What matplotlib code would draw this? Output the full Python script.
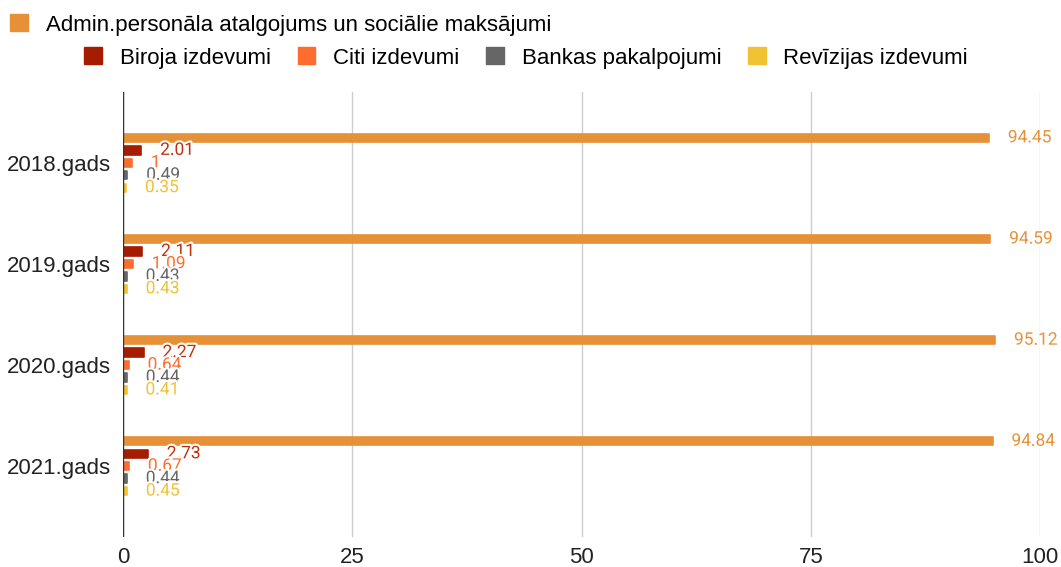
import matplotlib.pyplot as plt
import matplotlib.patheffects as pe
import numpy as np
from matplotlib.patches import Patch

years = ['2018.gads', '2019.gads', '2020.gads', '2021.gads']
series_names = ['Admin.personāla atalgojums un sociālie maksājumi', 'Biroja izdevumi',
                'Citi izdevumi', 'Bankas pakalpojumi', 'Revīzijas izdevumi']
admin = [94.45, 94.59, 95.12, 94.84]
biroja = [2.01, 2.11, 2.27, 2.73]
citi = [1, 1.09, 0.64, 0.67]
bankas = [0.49, 0.43, 0.44, 0.44]
revizijas = [0.35, 0.43, 0.41, 0.45]
x_ticks = [0, 25, 50, 75, 100]

colors = ['#e69138', '#a61c00', '#ff6d2e', '#666666', '#f1c232']
label_colors = ['#e69138', '#c0300f', '#ff6d2e', '#666666', '#f1c232']

plt.rcParams['font.family'] = ['Liberation Sans', 'DejaVu Sans']

fig = plt.figure(figsize=(10.61, 5.67), dpi=100)
ax = fig.add_axes([123 / 1061, 1 - 537 / 567, (1040 - 123) / 1061, (537 - 92) / 567])

y = np.arange(len(years))
step = 0.123
all_series = [admin, biroja, citi, bankas, revizijas]
for i, vals in enumerate(all_series):
    pos = y + (i - 2) * step
    ax.barh(pos, vals, height=0.082, color=colors[i], edgecolor=colors[i],
            linewidth=1.2, joinstyle='round', zorder=3)
    for p, v in zip(pos, vals):
        txt = ax.annotate(f'{v:g}', xy=(v, p), xytext=(13.5, 0), textcoords='offset points',
                          va='center', ha='left', fontsize=12.5, color=label_colors[i],
                          family=['Roboto', 'DejaVu Sans'], zorder=5)
        txt.set_path_effects([pe.withStroke(linewidth=3, foreground='white')])

ax.set_xlim(0, 100)
ax.set_ylim(3.7, -0.7)
ax.set_xticks(x_ticks)
ax.set_xticklabels([str(t) for t in x_ticks], fontsize=16, color='#222222')
ax.set_yticks(y)
ax.set_yticklabels(years, fontsize=16, color='#222222')
ax.tick_params(length=0, pad=9)
ax.tick_params(axis='x', pad=7)
ax.grid(axis='x', color='#cccccc', linewidth=1, zorder=0)
ax.axvline(0, color='#333333', linewidth=1, zorder=4)
for s in ax.spines.values():
    s.set_visible(False)

h0 = [Patch(color=colors[0], label=series_names[0])]
fig.legend(handles=h0, loc='upper left', bbox_to_anchor=(-0.004, 1.0), frameon=False,
           fontsize=16, handlelength=0.8, handleheight=0.8, handletextpad=0.8,
           borderaxespad=0.25)
h1 = [Patch(color=colors[i], label=series_names[i]) for i in range(1, 5)]
fig.legend(handles=h1, loc='upper center', bbox_to_anchor=(0.496, 0.942), ncol=4, frameon=False,
           fontsize=16, handlelength=0.8, handleheight=0.8, handletextpad=0.8,
           columnspacing=1.2, borderaxespad=0.25)

fig.savefig('out.png', dpi=100)
